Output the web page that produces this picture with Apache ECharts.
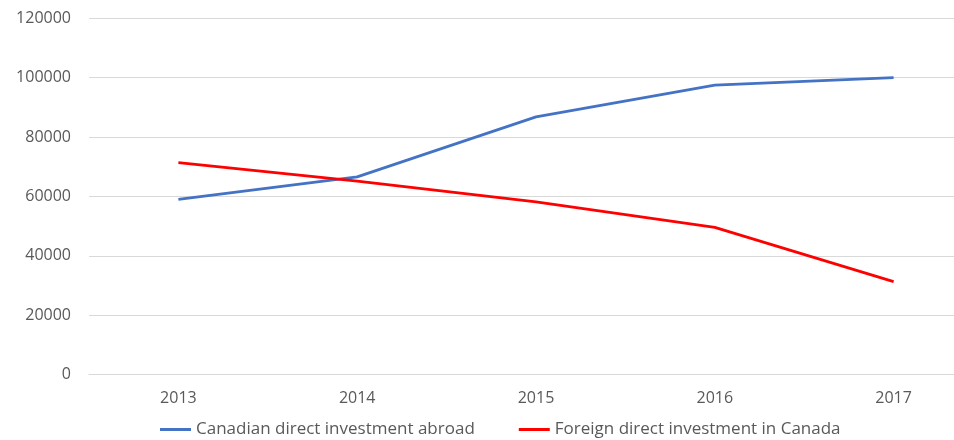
<!DOCTYPE html>
<html>
<head>
<meta charset="utf-8">
<script src="https://cdn.jsdelivr.net/npm/echarts@6/dist/echarts.min.js"></script>
<style>html,body{margin:0;padding:0;background:#fff;}#c{width:954px;height:440px;}</style>
</head>
<body>
<div id="c"></div>
<script>
const years = ['2013', '2014', '2015', '2016', '2017'];
const canadianAbroad = [59000, 66600, 86800, 97500, 100000];
const foreignInCanada = [71400, 65200, 58200, 49600, 31300];
const seriesNames = ['Canadian direct investment abroad', 'Foreign direct investment in Canada'];

const chart = echarts.init(document.getElementById('c'));
const font = 'Open Sans';
chart.setOption({
  animation: false,
  backgroundColor: '#fff',
  grid: { left: 89, width: 894, top: 18.3, height: 356.3, containLabel: false, outerBoundsMode: 'none' },
  legend: {
    top: 416,
    left: 155,
    itemWidth: 31,
    itemHeight: 3,
    itemGap: 44,
    icon: 'rect',
    textStyle: { color: '#595959', fontSize: 17, fontFamily: font },
    data: seriesNames
  },
  xAxis: {
    type: 'category',
    data: years,
    boundaryGap: true,
    axisLine: { show: true, lineStyle: { color: '#D9D9D9', width: 1 } },
    axisTick: { show: false },
    axisLabel: { color: '#595959', fontSize: 16, fontFamily: font, margin: 16 }
  },
  yAxis: {
    type: 'value',
    min: 0, max: 120000, interval: 20000,
    axisLine: { show: false },
    axisTick: { show: false },
    splitLine: { lineStyle: { color: '#D9D9D9', width: 1 } },
    axisLabel: { color: '#595959', fontSize: 16, fontFamily: font, margin: 18,
      formatter: function (v) { return String(v); } }
  },
  series: [
    { name: seriesNames[0], type: 'line', data: canadianAbroad, symbol: 'none',
      itemStyle: { color: '#4472C4' }, lineStyle: { color: '#4472C4', width: 2.75 } },
    { name: seriesNames[1], type: 'line', data: foreignInCanada, symbol: 'none',
      itemStyle: { color: '#FF0000' }, lineStyle: { color: '#FF0000', width: 2.75 } }
  ]
});
</script>
</body>
</html>
